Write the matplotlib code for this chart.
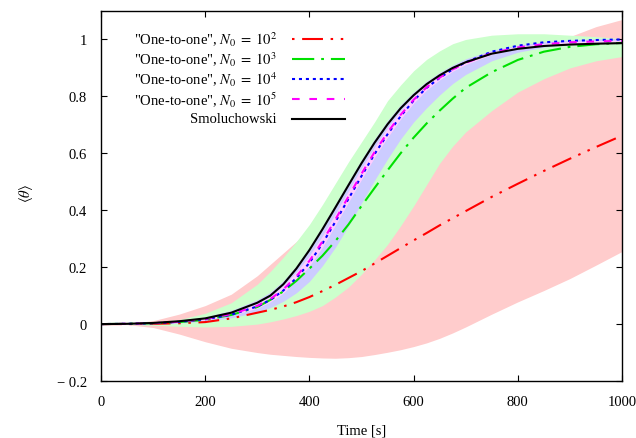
import numpy as np
import matplotlib
matplotlib.use("Agg")
import matplotlib.pyplot as plt

plt.rcParams['font.family'] = ['Liberation Serif', 'DejaVu Serif']
plt.rcParams['mathtext.fontset'] = 'stix'
plt.rcParams['lines.scale_dashes'] = False

# time grid [s]
t = [0, 50, 100, 150, 200, 250, 300, 325, 350, 375, 400, 425, 450, 475, 500,
     525, 550, 575, 600, 625, 650, 675, 700, 750, 800, 850, 900, 950, 1000]

# mean coverage curves
theta_n2 = [0.0, 0.0, 0.001, 0.003, 0.007, 0.02, 0.04, 0.05, 0.062, 0.077, 0.095,
            0.116, 0.138, 0.162, 0.186, 0.213, 0.24, 0.267, 0.294, 0.32, 0.347,
            0.372, 0.397, 0.447, 0.493, 0.538, 0.581, 0.622, 0.662]
theta_n3 = [0.0, 0.001, 0.003, 0.007, 0.015, 0.032, 0.06, 0.085, 0.115, 0.152, 0.195,
            0.24, 0.292, 0.35, 0.415, 0.478, 0.54, 0.6, 0.655, 0.705, 0.75,
            0.792, 0.83, 0.885, 0.928, 0.957, 0.974, 0.983, 0.988]
theta_n4 = [0.0, 0.001, 0.003, 0.008, 0.017, 0.033, 0.062, 0.085, 0.118, 0.162, 0.215,
            0.283, 0.36, 0.44, 0.52, 0.597, 0.667, 0.73, 0.785, 0.83, 0.865,
            0.895, 0.92, 0.957, 0.978, 0.99, 0.995, 0.998, 1.0]
theta_n5 = [0.0, 0.001, 0.003, 0.008, 0.018, 0.035, 0.064, 0.088, 0.122, 0.168, 0.222,
            0.29, 0.368, 0.448, 0.528, 0.604, 0.673, 0.735, 0.788, 0.832, 0.866,
            0.895, 0.918, 0.952, 0.972, 0.983, 0.99, 0.993, 0.995]
theta_smol = [0.0, 0.001, 0.004, 0.01, 0.02, 0.04, 0.075, 0.10, 0.14, 0.195, 0.26,
              0.333, 0.41, 0.488, 0.565, 0.637, 0.702, 0.758, 0.804, 0.843, 0.874,
              0.9, 0.92, 0.95, 0.967, 0.977, 0.982, 0.985, 0.987]

# spread bands (lower / upper)
lo_n2 = [0.0, -0.002, -0.012, -0.035, -0.062, -0.085, -0.1, -0.106, -0.11, -0.114, -0.117,
         -0.119, -0.12, -0.118, -0.114, -0.107, -0.099, -0.09, -0.079, -0.066, -0.05,
         -0.031, -0.01, 0.035, 0.078, 0.118, 0.16, 0.207, 0.255]
hi_n2 = [0.0, 0.002, 0.012, 0.035, 0.065, 0.105, 0.17, 0.21, 0.25, 0.29, 0.33,
         0.37, 0.41, 0.45, 0.49, 0.53, 0.565, 0.6, 0.635, 0.67, 0.705,
         0.74, 0.775, 0.84, 0.9, 0.955, 1.01, 1.045, 1.07]
lo_n3 = [0.0, -0.001, -0.004, -0.008, -0.01, -0.008, 0.0, 0.008, 0.018, 0.03, 0.045,
         0.065, 0.095, 0.13, 0.175, 0.225, 0.28, 0.345, 0.415, 0.49, 0.565,
         0.625, 0.675, 0.75, 0.815, 0.862, 0.9, 0.925, 0.94]
hi_n3 = [0.0, 0.001, 0.006, 0.016, 0.038, 0.075, 0.14, 0.185, 0.235, 0.29, 0.35,
         0.42, 0.495, 0.57, 0.64, 0.71, 0.785, 0.84, 0.89, 0.93, 0.96,
         0.985, 1.0, 1.015, 1.02, 1.02, 1.015, 1.01, 1.003]
lo_n4 = [0.0, 0.0, 0.001, 0.004, 0.01, 0.022, 0.042, 0.058, 0.08, 0.11, 0.15,
         0.205, 0.27, 0.345, 0.425, 0.505, 0.58, 0.65, 0.71, 0.76, 0.805,
         0.845, 0.877, 0.925, 0.955, 0.973, 0.983, 0.989, 0.993]
hi_n4 = [0.0, 0.002, 0.005, 0.012, 0.025, 0.048, 0.085, 0.112, 0.152, 0.205, 0.27,
         0.345, 0.422, 0.5, 0.578, 0.65, 0.715, 0.77, 0.815, 0.853, 0.884,
         0.91, 0.932, 0.962, 0.98, 0.992, 0.998, 1.002, 1.004]
lo_n5 = [0.0, 0.001, 0.002, 0.006, 0.015, 0.03, 0.056, 0.078, 0.109, 0.153, 0.204,
         0.27, 0.348, 0.428, 0.508, 0.586, 0.656, 0.72, 0.776, 0.822, 0.858,
         0.888, 0.912, 0.947, 0.968, 0.98, 0.987, 0.99, 0.992]
hi_n5 = [0.0, 0.001, 0.004, 0.01, 0.021, 0.04, 0.072, 0.098, 0.135, 0.183, 0.24,
         0.31, 0.388, 0.468, 0.548, 0.622, 0.69, 0.75, 0.8, 0.842, 0.874,
         0.902, 0.924, 0.957, 0.976, 0.986, 0.993, 0.996, 0.998]

labels = ['"One-to-one", $N_0\\;=\\;10^2$', '"One-to-one", $N_0\\;=\\;10^3$',
          '"One-to-one", $N_0\\;=\\;10^4$', '"One-to-one", $N_0\\;=\\;10^5$',
          'Smoluchowski']
colors = ['#ff0000', '#00e000', '#0000ff', '#ff00ff', '#000000']
band_colors = ['#ffcccc', '#ccffcc', '#ccccff', '#ffccff']
dashes = [(0, (15, 5.5, 1.8, 5.5, 1.8, 5.5)),
          (0, (16, 5, 2, 5)),
          (0, (2.2, 2.8)),
          (0, (5.5, 7)),
          '-']
key_dashes = [(27.8, (15, 5.5, 1.8, 5.5, 1.8, 5.5)),
              (0, (16, 5, 2, 5)),
              (0, (2.2, 2.8)),
              (0, (5.5, 7)),
              '-']

fig = plt.figure(figsize=(6.36, 4.39), dpi=100)
ax = fig.add_axes([0.1588, 0.1298, 0.8192, 0.8429])

series = [theta_n2, theta_n3, theta_n4, theta_n5, theta_smol]
bands = [(lo_n2, hi_n2), (lo_n3, hi_n3), (lo_n4, hi_n4), (lo_n5, hi_n5)]

for (lo, hi), c in zip(bands, band_colors):
    ax.fill_between(t, lo, hi, color=c, lw=0)

for y, c, ls in zip(series, colors, dashes):
    ax.plot(t, y, color=c, lw=1.5, linestyle=ls)

ax.set_xlim(0, 1000)
ax.set_ylim(-0.2, 1.1)
ax.set_xticks([0, 200, 400, 600, 800, 1000])
ax.set_yticks([-0.2, 0, 0.2, 0.4, 0.6, 0.8, 1])
ax.set_yticklabels(['\u2212 0.2', '0', '0.2', '0.4', '0.6', '0.8', '1'])
ax.tick_params(direction='in', top=True, right=True, length=4, width=0.8,
               labelsize=10.5)
ax.tick_params(axis='x', pad=10)
ax.tick_params(axis='y', pad=10)
for s in ax.spines.values():
    s.set_linewidth(1.0)

ax.set_xlabel('Time [s]', fontsize=10.5, labelpad=11)
ax.set_ylabel(r'$\langle\theta\rangle$', fontsize=10.5)
ax.yaxis.set_label_coords(-0.127, 0.51)

# gnuplot-like key: right-aligned text followed by line sample
for i, lab in enumerate(labels):
    yk = 0.9245 - i * 0.054
    ax.text(0.3378, yk, lab, transform=ax.transAxes, ha='right', va='center',
            fontsize=10.5)
    ax.plot([0.366, 0.468], [yk, yk], transform=ax.transAxes, color=colors[i],
            lw=1.5, linestyle=key_dashes[i])

fig.savefig('out.png', dpi=100)
